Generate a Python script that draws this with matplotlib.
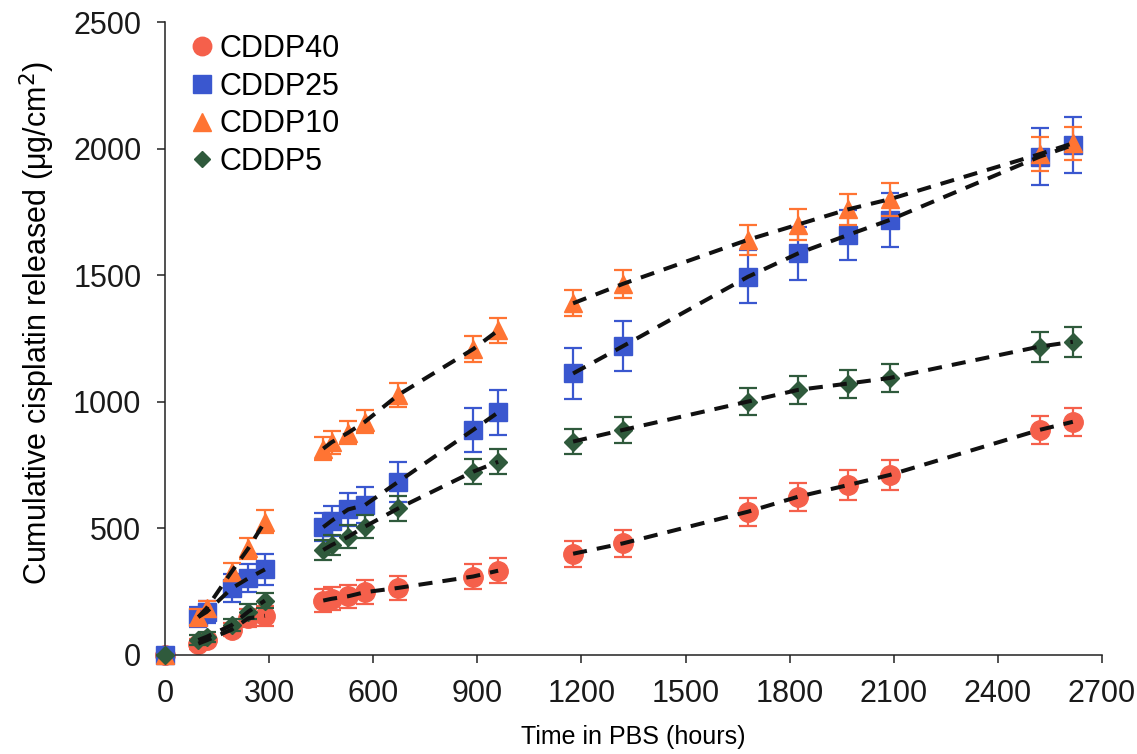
import matplotlib
matplotlib.use('Agg')
import matplotlib.pyplot as plt
from matplotlib.lines import Line2D

plt.rcParams['font.family'] = ['Liberation Sans', 'DejaVu Sans']

# sampling times (hours in PBS)
hours = [0, 96, 120, 192, 240, 288, 456, 480, 528, 576, 672, 888, 960,
         1176, 1320, 1680, 1824, 1968, 2088, 2520, 2616]

# cumulative release (ug/cm2) and standard deviations
cddp40 = [0, 45, 58, 100, 145, 155, 215, 222, 232, 248, 265, 310, 333,
          400, 441, 566, 625, 671, 711, 889, 921]
cddp40_err = [0, 20, 20, 25, 35, 40, 45, 45, 45, 48, 48, 50, 50,
              52, 52, 55, 55, 58, 58, 55, 55]

cddp25 = [0, 150, 170, 263, 303, 338, 505, 530, 575, 592, 684, 889, 958,
          1112, 1220, 1494, 1586, 1659, 1718, 1968, 2014]
cddp25_err = [0, 40, 45, 55, 55, 60, 55, 60, 65, 70, 78, 86, 88,
              100, 100, 105, 105, 100, 105, 112, 112]

cddp10 = [0, 150, 185, 329, 421, 527, 815, 840, 878, 921, 1027, 1208, 1282,
          1389, 1466, 1640, 1700, 1760, 1800, 1978, 2021]
cddp10_err = [0, 30, 30, 35, 40, 45, 45, 45, 45, 45, 48, 50, 50,
              52, 55, 60, 60, 60, 65, 66, 66]

cddp5 = [0, 59, 72, 118, 171, 215, 415, 434, 467, 507, 579, 724, 763,
         843, 889, 1001, 1047, 1072, 1094, 1218, 1237]
cddp5_err = [0, 20, 20, 25, 30, 30, 40, 40, 45, 45, 48, 50, 50,
             50, 50, 55, 55, 55, 55, 59, 59]

# index ranges joined by the dashed trend lines
segments = [(1, 6), (6, 13), (13, 21)]

series = [
    ('CDDP40', cddp40, cddp40_err, 'o', '#f5604b', 14),
    ('CDDP25', cddp25, cddp25_err, 's', '#3a57cf', 13),
    ('CDDP10', cddp10, cddp10_err, '^', '#ff7433', 13.5),
    ('CDDP5', cddp5, cddp5_err, 'D', '#2f5a3c', 9),
]

fig = plt.figure(figsize=(11.37, 7.54), dpi=100)
ax = fig.add_axes([0.1451, 0.1313, 0.8241, 0.8395])

handles = []
for i, (name, vals, errs, mk, col, ms) in enumerate(series):
    ax.errorbar(hours, vals, yerr=errs, fmt=mk, color=col, ms=ms,
                mec=col, ecolor=col, elinewidth=1.6, capsize=6.5,
                capthick=1.6, clip_on=False, zorder=2 + i)
    handles.append(Line2D([], [], marker=mk, color=col, ls='none',
                          ms=ms * 0.95, label=name))

for name, vals, errs, mk, col, ms in series:
    for a, b in segments:
        ax.plot(hours[a:b], vals[a:b], color='#111111', lw=2.9,
                ls=(0, (3.5, 2.5)), zorder=10)

ax.set_xlim(0, 2700)
ax.set_ylim(0, 2500)
ax.set_xticks(range(0, 2701, 300))
ax.set_yticks(range(0, 2501, 500))

for s in ['top', 'right']:
    ax.spines[s].set_visible(False)
for s in ['left', 'bottom']:
    ax.spines[s].set_linewidth(1.1)
    ax.spines[s].set_color('#222222')

ax.tick_params(axis='both', direction='out', length=6, width=1.1,
               labelsize=22, colors='#222222', labelcolor='#1a1a1a')
ax.tick_params(axis='y', pad=11)
ax.tick_params(axis='x', pad=11)

ax.set_xlabel('Time in PBS (hours)', fontsize=18, labelpad=12)
ax.set_ylabel('Cumulative cisplatin released (μg/cm$^2$)', fontsize=22)
ax.yaxis.set_label_coords(-0.115, 0.525)

ax.legend(handles=handles, loc='upper left', bbox_to_anchor=(0.0, 1.01),
          frameon=False, fontsize=22, handletextpad=0.0,
          handlelength=1.2, labelspacing=0.25, borderaxespad=0.2)

fig.savefig('out.png', dpi=100)
